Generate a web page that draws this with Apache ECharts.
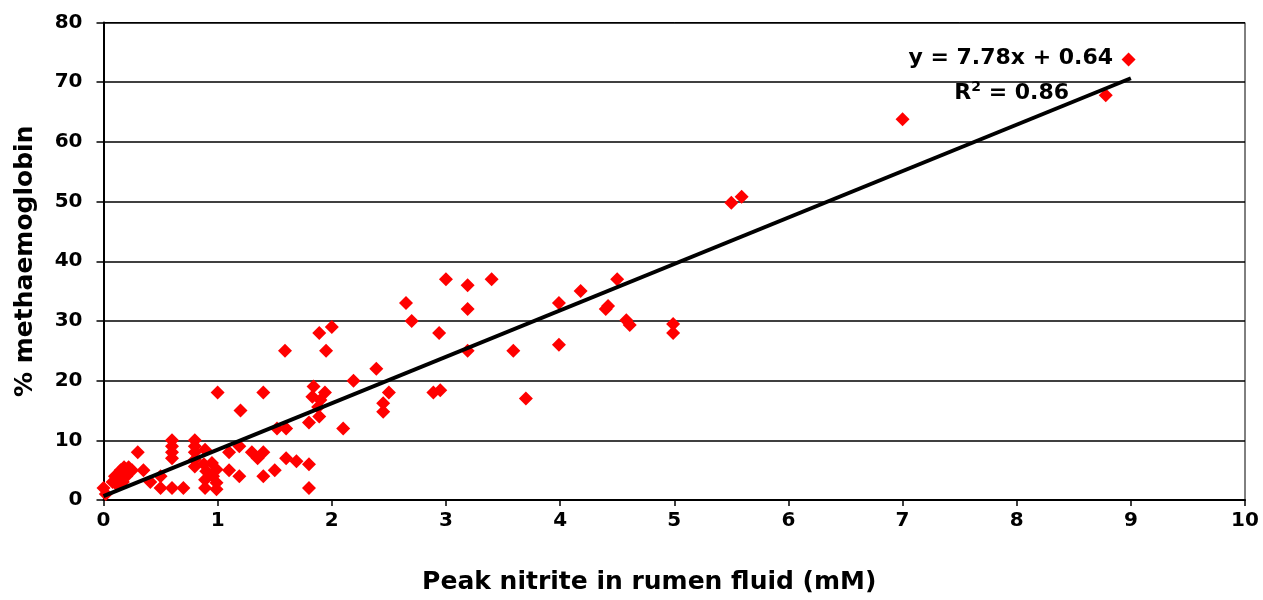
<!DOCTYPE html>
<html>
<head>
<meta charset="utf-8">
<script src="https://cdn.jsdelivr.net/npm/echarts@6/dist/echarts.min.js"></script>
<style>
html,body{margin:0;padding:0;background:#fff;}
#chart{width:1263px;height:600px;}
</style>
</head>
<body>
<div id="chart"></div>
<script>
// Peak nitrite in rumen fluid (mM)
const nitrite = [
  0, 0.02, 0.08, 0.1, 0.12, 0.12, 0.15, 0.15, 0.17, 0.18, 0.2, 0.2, 0.22, 0.25,
  0.3, 0.35, 0.41, 0.5, 0.5,
  0.6, 0.6, 0.6, 0.6, 0.6, 0.7,
  0.8, 0.8, 0.8, 0.8, 0.8,
  0.89, 0.88, 0.95, 0.9, 0.99, 0.89, 0.96, 0.99, 0.89, 0.99,
  1.0, 1.1, 1.19, 1.1, 1.19, 1.2, 1.3, 1.35, 1.4, 1.4, 1.4,
  1.5, 1.52, 1.6, 1.6, 1.59, 1.69, 1.8, 1.8, 1.8, 1.84, 1.83, 1.94, 1.9, 1.88, 1.89, 1.89,
  2.0, 1.95, 2.1, 2.19, 2.39, 2.5, 2.45, 2.45, 2.65, 2.7, 2.89, 2.95, 2.94,
  3.0, 3.19, 3.19, 3.19, 3.4, 3.59, 3.7, 3.99, 3.99, 4.18, 4.4, 4.42, 4.5, 4.58, 4.61,
  4.99, 4.99, 5.5, 5.59, 7.0, 8.78, 8.98
];
// % methaemoglobin
const methb = [
  2, 1, 3, 4, 2.5, 3.5, 5, 4, 3, 5.5, 5, 4, 5.5, 5,
  8, 5, 3, 4, 2,
  10, 9, 8, 7, 2, 2,
  10, 9, 8, 6.75, 5.6,
  8.4, 6, 6.2, 4.8, 5.1, 3.4, 4, 2.9, 2, 1.8,
  18, 8, 9, 5, 4, 15, 8, 7, 8, 18, 4,
  5, 12, 12, 7, 25, 6.5, 6, 2, 13, 19, 17.3, 18, 16.75, 15.6, 14, 28,
  29, 25, 12, 20, 22, 18, 16.2, 14.8, 33, 30, 18, 18.4, 28,
  37, 36, 32, 25, 37, 25, 17, 33, 26, 35, 32, 32.5, 37, 30.1, 29.3,
  29.5, 28, 49.8, 50.8, 63.8, 67.8, 73.8
];
// Linear trend line endpoints (y = 7.78x + 0.64)
const trendX = [0, 9];
const trendY = [0.64, 70.66];
const equationText = 'y = 7.78x + 0.64';
const r2Text = 'R{sup|2} = 0.86';
const xTicks = [0, 1, 2, 3, 4, 5, 6, 7, 8, 9, 10];
const yTicks = [0, 10, 20, 30, 40, 50, 60, 70, 80];

const points = nitrite.map((x, i) => [x, methb[i]]);
const trend = trendX.map((x, i) => [x, trendY[i]]);

const FONT = 'DejaVu Sans';
const chart = echarts.init(document.getElementById('chart'), null, {renderer: 'canvas'});
chart.setOption({
  animation: false,
  backgroundColor: '#ffffff',
  grid: {left: 103.5, right: 18, top: 22.5, bottom: 99.5, show: true, borderColor: '#000', borderWidth: 1, backgroundColor: 'transparent'},
  xAxis: {
    type: 'value', min: xTicks[0], max: xTicks[xTicks.length - 1], interval: 1,
    name: 'Peak nitrite in rumen fluid (mM)', nameLocation: 'middle', nameGap: 70,
    nameTextStyle: {fontFamily: FONT, fontWeight: 'bold', fontSize: 25, color: '#000', padding: [0, 50, 0, 0]},
    axisLine: {show: true, onZero: false, lineStyle: {color: '#000', width: 2}},
    axisTick: {show: true, length: 6, lineStyle: {color: '#000', width: 1.5}},
    axisLabel: {margin: 11, fontFamily: FONT, fontWeight: 'bold', fontSize: 20, color: '#000'},
    splitLine: {show: false}
  },
  yAxis: {
    type: 'value', min: yTicks[0], max: yTicks[yTicks.length - 1], interval: 10,
    name: '% methaemoglobin', nameLocation: 'middle', nameGap: 66,
    nameTextStyle: {fontFamily: FONT, fontWeight: 'bold', fontSize: 25, color: '#000'},
    axisLine: {show: true, onZero: false, lineStyle: {color: '#000', width: 2}},
    axisTick: {show: true, length: 7, lineStyle: {color: '#000', width: 1.5}},
    axisLabel: {margin: 21, fontFamily: FONT, fontWeight: 'bold', fontSize: 20, color: '#000'},
    splitLine: {show: true, lineStyle: {color: '#000', width: 1.5}}
  },
  series: [
    {
      type: 'scatter', data: points, symbol: 'diamond', symbolSize: 14,
      itemStyle: {color: '#ff0000', opacity: 1}, z: 3
    },
    {
      type: 'line', data: trend, symbol: 'none', showSymbol: false,
      lineStyle: {color: '#000', width: 4}, z: 4, silent: true
    }
  ],
  graphic: [
    {type: 'text', right: 150, top: 47, style: {text: equationText, fontFamily: FONT, fontWeight: 'bold', fontSize: 22, fill: '#000'}, z: 10},
    {type: 'text', right: 194, top: 80, style: {
      text: r2Text, fontFamily: FONT, fontWeight: 'bold', fontSize: 22, fill: '#000',
      rich: {sup: {fontFamily: FONT, fontWeight: 'bold', fontSize: 14, fill: '#000', padding: [0, 0, 12, 0]}}
    }, z: 10}
  ]
});
</script>
</body>
</html>
